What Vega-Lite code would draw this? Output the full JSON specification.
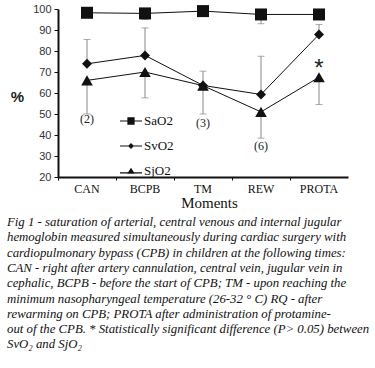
{
  "$schema": "https://vega.github.io/schema/vega-lite/v6.json",
  "width": 290,
  "height": 168,
  "autosize": {"type": "none"},
  "padding": {"left": 58, "top": 9, "right": 27, "bottom": 191},
  "background": "white",
  "config": {"view": {"stroke": null}},
  "title": {
    "text": [
      "Fig 1 - saturation of arterial, central venous and internal jugular",
      "hemoglobin measured simultaneously during cardiac surgery with",
      "cardiopulmonary bypass (CPB) in children at the following times:",
      "CAN - right after artery cannulation, central vein, jugular vein in",
      "cephalic, BCPB - before the start of CPB; TM - upon reaching the",
      "minimum nasopharyngeal temperature (26-32 ° C) RQ - after",
      "rewarming on CPB; PROTA after administration of protamine-",
      "out of the CPB. * Statistically significant difference (P> 0.05) between",
      "SvO₂ and SjO₂"
    ],
    "orient": "bottom",
    "anchor": "start",
    "frame": "group",
    "align": "left",
    "dx": -51,
    "offset": 6,
    "font": "Liberation Serif",
    "fontStyle": "italic",
    "fontWeight": "normal",
    "fontSize": 12.8,
    "lineHeight": 15.3,
    "color": "#111"
  },
  "datasets": {
    "main": [
      {"moment": "CAN", "series": "SaO2", "value": 98.2},
      {"moment": "BCPB", "series": "SaO2", "value": 97.9},
      {"moment": "TM", "series": "SaO2", "value": 99},
      {"moment": "REW", "series": "SaO2", "value": 97.4},
      {"moment": "PROTA", "series": "SaO2", "value": 97.4},
      {"moment": "CAN", "series": "SvO2", "value": 73.9},
      {"moment": "BCPB", "series": "SvO2", "value": 77.9},
      {"moment": "TM", "series": "SvO2", "value": 63.6},
      {"moment": "REW", "series": "SvO2", "value": 59.3},
      {"moment": "PROTA", "series": "SvO2", "value": 87.9},
      {"moment": "CAN", "series": "SjO2", "value": 66},
      {"moment": "BCPB", "series": "SjO2", "value": 70},
      {"moment": "TM", "series": "SjO2", "value": 63.5},
      {"moment": "REW", "series": "SjO2", "value": 51},
      {"moment": "PROTA", "series": "SjO2", "value": 67.5}
    ],
    "err": [
      {"moment": "BCPB", "series": "SaO2", "lo": 95, "hi": 97.9, "cap": 95},
      {"moment": "REW", "series": "SaO2", "lo": 93, "hi": 97.4, "cap": 93},
      {"moment": "CAN", "series": "SvO2", "lo": 73.9, "hi": 85.5, "cap": 85.5},
      {"moment": "BCPB", "series": "SvO2", "lo": 77.9, "hi": 91, "cap": 91},
      {"moment": "TM", "series": "SvO2", "lo": 63.6, "hi": 70.4, "cap": 70.4},
      {"moment": "REW", "series": "SvO2", "lo": 59.3, "hi": 77.5, "cap": 77.5},
      {"moment": "PROTA", "series": "SvO2", "lo": 87.9, "hi": 92.6, "cap": 92.6},
      {"moment": "CAN", "series": "SjO2", "lo": 50, "hi": 66, "cap": 50},
      {"moment": "BCPB", "series": "SjO2", "lo": 57.7, "hi": 70, "cap": 57.7},
      {"moment": "TM", "series": "SjO2", "lo": 50, "hi": 63.5, "cap": 50},
      {"moment": "REW", "series": "SjO2", "lo": 38.5, "hi": 51, "cap": 38.5},
      {"moment": "PROTA", "series": "SjO2", "lo": 54.5, "hi": 67.5, "cap": 54.5}
    ],
    "notes": [
      {"moment": "CAN", "value": 47.8, "label": "(2)"},
      {"moment": "TM", "value": 45.6, "label": "(3)"},
      {"moment": "REW", "value": 35, "label": "(6)"}
    ],
    "star": [
      {"moment": "PROTA", "value": 74.5, "label": "*"}
    ]
  },
  "encoding": {
    "x": {
      "field": "moment",
      "type": "nominal",
      "scale": {"type": "band", "domain": ["CAN", "BCPB", "TM", "REW", "PROTA"], "paddingInner": 0, "paddingOuter": 0},
      "axis": {
        "title": "Moments",
        "titleFont": "Liberation Serif",
        "titleFontSize": 15,
        "titleFontWeight": "normal",
        "titleColor": "#111",
        "titleX": 151,
        "titlePadding": 1,
        "labelFont": "Liberation Serif",
        "labelFontSize": 12,
        "labelColor": "#111",
        "labelPadding": 3,
        "labelAngle": 0,
        "bandPosition": 0,
        "tickSize": 3,
        "tickColor": "#111",
        "domainColor": "#111",
        "domainWidth": 2,
        "grid": false
      }
    },
    "y": {
      "type": "quantitative",
      "scale": {"domain": [20, 100], "nice": false},
      "axis": {
        "title": "%",
        "titleAngle": 0,
        "titleX": -41,
        "titleY": 87,
        "titleAlign": "center",
        "titleBaseline": "middle",
        "titleFont": "Liberation Sans",
        "titleFontSize": 15,
        "titleFontWeight": "bold",
        "titleColor": "#222",
        "values": [20, 30, 40, 50, 60, 70, 80, 90, 100],
        "labelFont": "Liberation Sans",
        "labelFontSize": 11,
        "labelColor": "#333",
        "labelPadding": 3,
        "tickSize": 4,
        "tickColor": "#111",
        "domainColor": "#111",
        "domainWidth": 2,
        "grid": false
      }
    }
  },
  "layer": [
    {
      "mark": {"type": "rule", "color": "#111", "strokeWidth": 1.3},
      "encoding": {"x": null, "y": {"datum": 50, "type": "quantitative"}}
    },
    {
      "data": {"name": "err"},
      "mark": {"type": "rule", "color": "#888", "strokeWidth": 1},
      "encoding": {"y": {"field": "lo"}, "y2": {"field": "hi"}}
    },
    {
      "data": {"name": "err"},
      "mark": {"type": "tick", "orient": "horizontal", "color": "#888", "size": 7, "thickness": 1},
      "encoding": {"y": {"field": "cap"}}
    },
    {
      "data": {"name": "main"},
      "mark": {"type": "line", "color": "#111", "strokeWidth": 1},
      "encoding": {"y": {"field": "value"}, "detail": {"field": "series"}}
    },
    {
      "data": {"name": "main"},
      "transform": [{"filter": "datum.series === 'SaO2'"}],
      "mark": {"type": "point", "filled": true, "color": "#111", "opacity": 1, "shape": "square", "size": 144},
      "encoding": {"y": {"field": "value"}}
    },
    {
      "data": {"name": "main"},
      "transform": [{"filter": "datum.series === 'SvO2'"}],
      "mark": {"type": "point", "filled": true, "color": "#111", "opacity": 1, "shape": "diamond", "size": 100},
      "encoding": {"y": {"field": "value"}}
    },
    {
      "data": {"name": "main"},
      "transform": [{"filter": "datum.series === 'SjO2'"}],
      "mark": {"type": "point", "filled": true, "color": "#111", "opacity": 1, "shape": "triangle-up", "size": 135},
      "encoding": {"y": {"field": "value"}}
    },
    {
      "data": {"name": "main"},
      "mark": {"type": "point", "filled": true, "color": "#111", "opacity": 0, "size": 484},
      "encoding": {
        "y": {"field": "value"},
        "shape": {
          "field": "series",
          "type": "nominal",
          "scale": {"domain": ["SaO2", "SvO2", "SjO2"], "range": [
            "M-1,-0.05H1V0.05H-1ZM-0.33,-0.33H0.33V0.33H-0.33Z",
            "M-1,-0.05H1V0.05H-1ZM0,-0.27L0.27,0L0,0.27L-0.27,0Z",
            "M-1,0.12H1V0.22H-1ZM0,-0.3L0.35,0.25H-0.35Z"
          ]},
          "legend": {
            "title": null,
            "orient": "none",
            "legendX": 62,
            "legendY": 101,
            "symbolSize": 484,
            "symbolOpacity": 1,
            "symbolFillColor": "#111",
            "symbolStrokeWidth": 0,
            "labelFont": "Liberation Serif",
            "labelFontSize": 13,
            "labelColor": "#111",
            "labelOffset": 2,
            "rowPadding": 7,
            "encode": {
              "symbols": {
                "update": {
                  "fill": {"value": "#111"},
                  "opacity": {"value": 1},
                  "size": {"value": 484}
                }
              }
            }
          }
        }
      }
    },
    {
      "data": {"name": "notes"},
      "mark": {"type": "text", "font": "Liberation Serif", "fontSize": 12, "color": "#222"},
      "encoding": {"y": {"field": "value"}, "text": {"field": "label"}}
    },
    {
      "data": {"name": "star"},
      "mark": {"type": "text", "font": "Liberation Sans", "fontSize": 24, "color": "#222", "baseline": "middle", "dy": 6},
      "encoding": {"y": {"field": "value"}, "text": {"field": "label"}}
    }
  ]
}
